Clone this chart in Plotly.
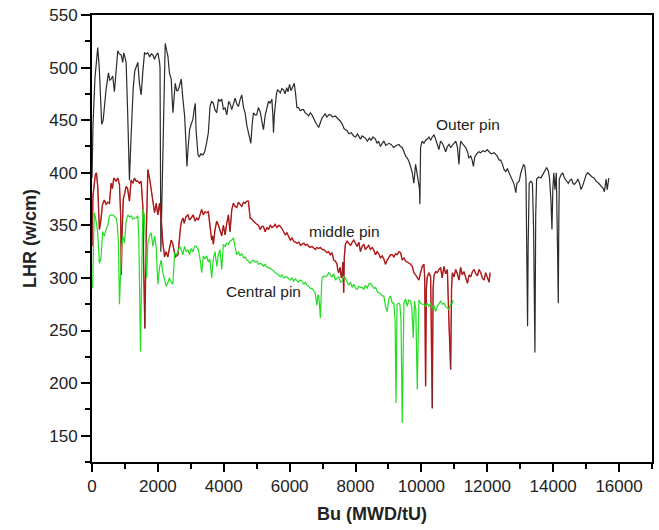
import plotly.graph_objects as go

# Burnup (MWD/tU) and linear heat rate (w/cm) for each pin
outer_bu = [0, 30, 90, 174, 220, 295, 340, 426, 500, 540, 580, 630, 680, 782, 830, 884, 935, 965, 1000, 1036,
            1080, 1137, 1180, 1250, 1300, 1391, 1440, 1492, 1540, 1594, 1640, 1695, 1750, 1800, 1848, 1899, 1950,
            2000, 2051, 2065, 2090, 2150, 2222, 2260, 2304, 2350, 2405, 2456, 2490, 2527, 2570, 2608, 2650, 2709,
            2760, 2812, 2850, 2882, 2920, 2964, 3010, 3065, 3100, 3136, 3160, 3218, 3260, 3300, 3370, 3420, 3470,
            3532, 3583, 3630, 3684, 3730, 3786, 3840, 3887, 3940, 3990, 4040, 4091, 4150, 4200, 4243, 4290, 4344,
            4400, 4446, 4500, 4547, 4600, 4648, 4700, 4749, 4822, 4860, 4901, 4950, 5000, 5050, 5105, 5150, 5205,
            5260, 5309, 5360, 5409, 5460, 5490, 5510, 5535, 5561, 5600, 5632, 5680, 5720, 5760, 5814, 5860, 5910,
            5950, 5997, 6040, 6090, 6140, 6180, 6221, 6271, 6320, 6373, 6423, 6470, 6520, 6575, 6630, 6677, 6740,
            6800, 6880, 6930, 6982, 7032, 7080, 7130, 7184, 7250, 7300, 7388, 7450, 7540, 7600, 7650, 7743, 7800,
            7870, 7945, 8000, 8060, 8149, 8200, 8250, 8301, 8360, 8420, 8470, 8530, 8605, 8650, 8700, 8757, 8810,
            8860, 8920, 9010, 9080, 9162, 9230, 9315, 9360, 9418, 9470, 9519, 9570, 9619, 9670, 9722, 9771, 9800,
            9823, 9850, 9874, 9910, 9940, 9954, 9975, 10020, 10076, 10130, 10178, 10230, 10280, 10330, 10380, 10420,
            10470, 10532, 10580, 10636, 10680, 10736, 10790, 10837, 10890, 10940, 10990, 11041, 11090, 11141, 11165,
            11193, 11240, 11290, 11345, 11400, 11440, 11497, 11540, 11578, 11620, 11680, 11740, 11801, 11860, 11930,
            12000, 12055, 12120, 12207, 12260, 12300, 12359, 12410, 12460, 12511, 12563, 12610, 12660, 12714, 12760,
            12815, 12866, 12900, 12967, 13020, 13060, 13101, 13140, 13175, 13193, 13210, 13223, 13240, 13272, 13320,
            13370, 13406, 13425, 13446, 13470, 13497, 13560, 13628, 13680, 13729, 13770, 13802, 13850, 13890, 13933,
            13963, 13990, 14020, 14054, 14095, 14136, 14155, 14170, 14186, 14240, 14288, 14340, 14400, 14459, 14510,
            14560, 14600, 14642, 14700, 14750, 14800, 14846, 14900, 14947, 15000, 15049, 15110, 15180, 15240, 15302,
            15380, 15454, 15520, 15555, 15606, 15640, 15689]
outer_lhr = [395, 445, 490, 519, 500, 446, 450, 479, 495, 488, 489, 492, 477, 516, 513, 512, 505, 514, 510, 505,
             460, 393, 430, 480, 497, 505, 485, 474, 495, 514, 513, 514, 510, 513, 512, 508, 512,
             514, 505, 500, 325, 420, 523, 517, 511, 495, 489, 457, 470, 485, 478, 478, 482, 489,
             470, 454, 430, 406, 425, 441, 446, 451, 460, 466, 440, 417, 415, 418, 417, 420, 427,
             438, 463, 468, 466, 460, 457, 470, 468, 470, 460, 462, 455, 468, 465, 460, 465, 471,
             465, 463, 470, 474, 462, 457, 445, 438, 428, 445, 457, 455, 455, 462, 458, 450, 441,
             455, 463, 468, 466, 470, 455, 438, 455, 466, 475, 479, 477, 476, 480, 479, 475, 481,
             477, 484, 478, 482, 485, 475, 462, 462, 459, 460, 460, 457, 456, 454, 457, 455, 450,
             447, 443, 448, 452, 454, 456, 453, 455, 455, 453, 454, 452, 449, 446, 442, 440, 437,
             438, 435, 434, 437, 432, 435, 434, 433, 430, 433, 431, 434, 432, 428, 430, 425, 428,
             430, 426, 428, 427, 424, 426, 427, 425, 424, 420, 416, 414, 411, 406, 400, 390, 402,
             408, 403, 398, 392, 385, 370, 424, 430, 428, 431, 432, 434, 431, 434, 436, 433,
             428, 422, 430, 428, 425, 420, 425, 427, 424, 426, 428, 430, 425, 408, 422,
             430, 428, 426, 424, 420, 414, 416, 412, 406, 415, 418, 420, 419, 421, 420,
             422, 420, 418, 419, 417, 416, 412, 412, 408, 403, 401, 404, 400, 397, 393,
             389, 381, 390, 392, 400, 405, 408, 406, 395, 340, 280, 254, 330, 390, 392,
             390, 346, 290, 229, 360, 394, 396, 395, 398, 401, 403, 405, 402, 395, 373,
             346, 385, 400, 384, 400, 321, 276, 350, 394, 398, 400, 395, 392, 390, 393,
             394, 390, 389, 391, 394, 390, 384, 388, 394, 398, 400, 398, 396, 395, 392,
             390, 387, 385, 382, 394, 384, 395]

middle_bu = [0, 30, 100, 134, 174, 225, 270, 320, 377, 426, 480, 530, 580, 620, 661, 731, 782, 833, 870, 890,
             910, 950, 990, 1036, 1080, 1137, 1188, 1240, 1290, 1340, 1391, 1440, 1492, 1543, 1575, 1605, 1640,
             1675, 1695, 1746, 1797, 1848, 1899, 1949, 2000, 2051, 2101, 2152, 2204, 2250, 2304, 2350, 2405, 2456,
             2528, 2609, 2650, 2690, 2720, 2761, 2800, 2850, 2913, 2960, 3010, 3075, 3126, 3180, 3228, 3280, 3330,
             3380, 3430, 3482, 3532, 3580, 3634, 3660, 3684, 3735, 3786, 3840, 3887, 3938, 3988, 4040, 4091, 4140,
             4190, 4243, 4293, 4344, 4395, 4446, 4496, 4547, 4600, 4648, 4699, 4749, 4800, 4850, 4901, 4953, 5004,
             5055, 5105, 5155, 5205, 5257, 5310, 5357, 5410, 5461, 5510, 5560, 5610, 5665, 5714, 5765, 5820, 5866,
             5918, 5970, 6018, 6070, 6120, 6170, 6221, 6280, 6330, 6373, 6430, 6480, 6526, 6580, 6627, 6680, 6730,
             6779, 6830, 6880, 6931, 6982, 7032, 7083, 7135, 7184, 7236, 7287, 7336, 7388, 7440, 7458, 7489, 7530,
             7570, 7592, 7615, 7641, 7660, 7693, 7745, 7793, 7850, 7900, 7945, 8000, 8048, 8100, 8149, 8200, 8250,
             8301, 8352, 8400, 8452, 8510, 8560, 8605, 8657, 8706, 8757, 8809, 8860, 8910, 8961, 9010, 9062, 9114,
             9164, 9215, 9266, 9317, 9367, 9418, 9468, 9520, 9570, 9620, 9671, 9722, 9773, 9823, 9874, 9924, 9975,
             10026, 10076, 10100, 10127, 10150, 10178, 10230, 10280, 10305, 10330, 10355, 10380, 10431, 10483,
             10532, 10583, 10630, 10684, 10736, 10788, 10837, 10888, 10915, 10940, 10990, 11041, 11090, 11141,
             11190, 11240, 11293, 11345, 11397, 11450, 11497, 11550, 11598, 11650, 11700, 11750, 11801, 11850,
             11902, 11950, 12000, 12055, 12085]
middle_lhr = [330, 378, 398, 400, 387, 346, 355, 370, 374, 370, 372, 371, 390, 385, 395, 392, 395, 389, 360, 303,
              340, 375, 380, 387, 385, 373, 393, 390, 395, 392, 392, 390, 392, 368, 300, 252, 330,
              395, 403, 395, 385, 374, 362, 371, 360, 371, 356, 333, 320, 325, 320, 328, 336, 332,
              320, 322, 340, 349, 354, 357, 352, 358, 360, 355, 357, 360, 354, 357, 355, 360, 365,
              360, 363, 362, 363, 350, 336, 340, 332, 346, 354, 350, 346, 340, 350, 341, 352, 360,
              344, 365, 371, 368, 367, 372, 370, 368, 372, 371, 373, 373, 357, 356, 354, 352, 351,
              350, 346, 349, 349, 344, 348, 346, 350, 348, 349, 351, 348, 350, 349, 347, 344, 341,
              343, 340, 336, 338, 335, 334, 333, 334, 331, 332, 333, 331, 332, 330, 329, 330, 328,
              327, 329, 328, 329, 327, 327, 325, 324, 325, 322, 324, 317, 316, 313, 308, 305, 310,
              300, 303, 315, 286, 320, 332, 335, 333, 331, 334, 336, 333, 330, 334, 325, 330, 332,
              327, 329, 331, 327, 329, 326, 322, 325, 323, 319, 321, 318, 313, 317, 320, 322, 322,
              320, 323, 322, 325, 324, 317, 319, 316, 315, 314, 313, 311, 305, 303, 300, 298, 305,
              311, 313, 300, 197, 290, 301, 305, 301, 240, 176, 290, 302, 306, 305,
              308, 310, 300, 311, 304, 308, 257, 213, 290, 305, 301, 308, 304, 298,
              310, 303, 306, 300, 295, 303, 301, 306, 308, 304, 302, 308, 305, 300,
              298, 305, 300, 296, 305]

central_bu = [0, 21, 50, 73, 120, 174, 225, 270, 326, 377, 426, 480, 530, 580, 630, 680, 731, 770, 803, 834,
              864, 900, 940, 986, 1036, 1087, 1140, 1188, 1240, 1290, 1340, 1391, 1420, 1442, 1472, 1500, 1543,
              1590, 1625, 1660, 1695, 1746, 1797, 1848, 1899, 1949, 1975, 2000, 2050, 2101, 2152, 2200, 2253, 2300,
              2350, 2400, 2456, 2507, 2560, 2608, 2660, 2709, 2760, 2810, 2860, 2913, 2960, 3010, 3065, 3117, 3160,
              3228, 3280, 3330, 3380, 3430, 3482, 3530, 3580, 3634, 3684, 3735, 3787, 3835, 3887, 3938, 3988, 4040,
              4091, 4140, 4190, 4243, 4293, 4344, 4395, 4446, 4496, 4547, 4600, 4650, 4699, 4750, 4800, 4850, 4901,
              4953, 5004, 5055, 5105, 5160, 5210, 5257, 5310, 5357, 5410, 5461, 5510, 5561, 5610, 5660, 5714, 5765,
              5814, 5866, 5918, 5970, 6018, 6069, 6120, 6170, 6221, 6270, 6320, 6373, 6430, 6480, 6526, 6580, 6630,
              6678, 6730, 6779, 6800, 6830, 6855, 6880, 6905, 6931, 6960, 6982, 7032, 7083, 7135, 7184, 7236, 7287,
              7336, 7388, 7440, 7489, 7540, 7592, 7643, 7693, 7745, 7793, 7850, 7900, 7950, 8000, 8048, 8100, 8149,
              8200, 8250, 8300, 8352, 8400, 8452, 8505, 8560, 8610, 8660, 8706, 8757, 8809, 8858, 8910, 8961, 9010,
              9062, 9114, 9164, 9200, 9230, 9260, 9315, 9347, 9380, 9418, 9445, 9468, 9520, 9570, 9619, 9671, 9710,
              9753, 9790, 9830, 9874, 9900, 9924, 9975, 10026, 10076, 10127, 10178, 10230, 10280, 10330, 10380,
              10431, 10483, 10532, 10583, 10636, 10684, 10736, 10788, 10837, 10888, 10940, 10970]
central_lhr = [290, 292, 340, 362, 355, 343, 314, 318, 344, 340, 346, 350, 359, 360, 360, 358, 357, 350, 333, 275,
               308, 330, 340, 333, 354, 360, 358, 359, 356, 357, 357, 359, 340, 292, 230, 290, 365,
               360, 330, 300, 333, 340, 343, 330, 340, 329, 310, 294, 310, 317, 305, 300, 292, 295,
               300, 296, 294, 324, 322, 325, 330, 327, 322, 330, 325, 327, 322, 328, 325, 330, 330,
               327, 318, 305, 321, 318, 321, 315, 318, 300, 318, 325, 311, 322, 327, 308, 332, 330,
               333, 332, 335, 336, 338, 329, 322, 325, 321, 323, 319, 320, 317, 316, 314, 316, 317,
               315, 316, 313, 314, 313, 311, 313, 310, 310, 309, 308, 307, 305, 304, 303, 301, 303,
               300, 301, 301, 299, 298, 300, 297, 299, 297, 296, 298, 297, 294, 296, 293, 292, 290,
               290, 288, 285, 280, 274, 284, 283, 275, 262, 285, 300, 302, 301, 302, 305, 303, 301,
               304, 298, 300, 301, 296, 297, 302, 300, 296, 293, 296, 291, 294, 290, 289, 292, 291,
               291, 289, 293, 290, 294, 295, 293, 290, 291, 287, 286, 285, 283, 283, 273, 268, 280,
               283, 276, 276, 260, 181, 275, 276, 275, 260, 162, 272, 276, 280, 273, 279, 278, 271,
               243, 278, 270, 194, 270, 279, 276, 275, 275, 273, 276, 273, 276, 271, 274,
               268, 273, 276, 278, 275, 276, 273, 271, 270, 275, 276, 279]

FONT = "Liberation Sans, Arial, sans-serif"

fig = go.Figure()
fig.add_trace(go.Scatter(x=outer_bu, y=outer_lhr, mode="lines",
                         line=dict(color="#2b2b2b", width=1.2), name="Outer pin"))
# middle pin: red core with a darker brownish stroke over it
fig.add_trace(go.Scatter(x=middle_bu, y=middle_lhr, mode="lines",
                         line=dict(color="#e01818", width=1.4), name="middle pin"))
fig.add_trace(go.Scatter(x=middle_bu, y=middle_lhr, mode="lines",
                         line=dict(color="rgba(90,40,40,0.6)", width=0.9), showlegend=False))
fig.add_trace(go.Scatter(x=central_bu, y=central_lhr, mode="lines",
                         line=dict(color="#22dd22", width=1.2), name="Central pin"))

labels = [("Outer pin", 11406, 446), ("middle pin", 7656, 344), ("Central pin", 5205, 287)]
for text, xv, yv in labels:
    fig.add_annotation(x=xv, y=yv, text=text, showarrow=False,
                       font=dict(family=FONT, size=15.5, color="#222"))

axis_common = dict(
    showline=True, linecolor="black", linewidth=2, mirror=True,
    ticks="outside", tickcolor="black", tickwidth=1.5,
    showgrid=False, zeroline=False,
    tickfont=dict(family=FONT, size=17, color="#222"),
)

fig.update_xaxes(range=[0, 17000], tickvals=list(range(0, 16001, 2000)), tickformat="d", ticklen=8,
                 minor=dict(dtick=1000, ticks="outside", ticklen=5, tickcolor="black", tickwidth=1.5),
                 title=dict(text="<b>Bu (MWD/tU)</b>", font=dict(family=FONT, size=18, color="#222"), standoff=12),
                 **axis_common)
fig.update_yaxes(range=[125, 550], dtick=50, ticklen=9,
                 minor=dict(dtick=25, ticks="outside", ticklen=5, tickcolor="black", tickwidth=1.5),
                 title=dict(text="<b>LHR (w/cm)</b>", font=dict(family=FONT, size=18, color="#222"), standoff=8),
                 **axis_common)

fig.update_layout(
    width=659, height=530,
    margin=dict(l=92, r=7, t=15, b=68, autoexpand=False),
    plot_bgcolor="white", paper_bgcolor="white",
    showlegend=False,
)

fig.write_html("out.html")
